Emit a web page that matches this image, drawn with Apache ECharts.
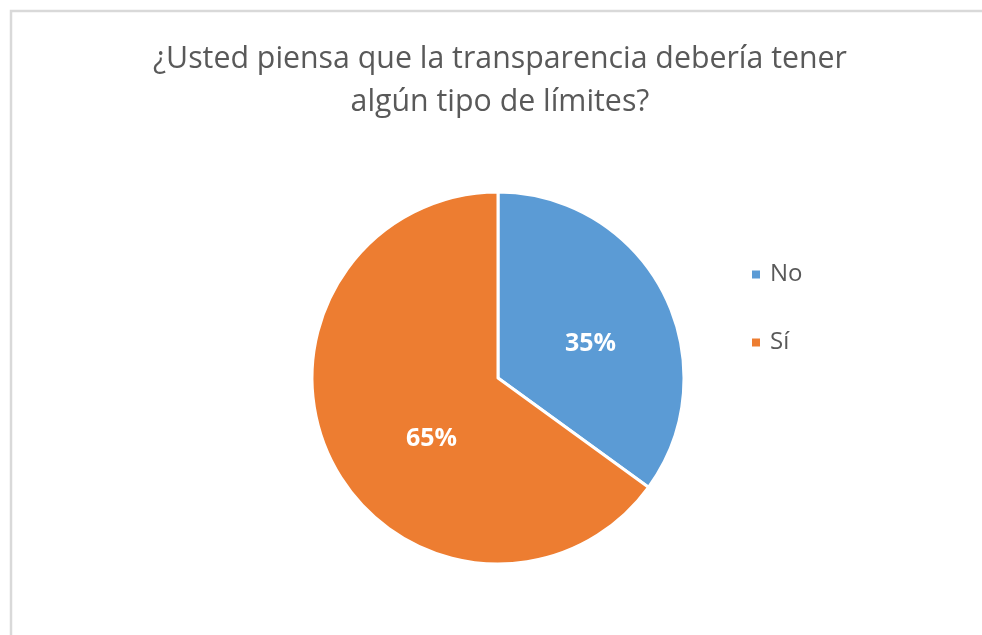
<!DOCTYPE html>
<html>
<head>
<meta charset="utf-8">
<script src="https://cdn.jsdelivr.net/npm/echarts@6/dist/echarts.min.js"></script>
<style>
html,body{margin:0;padding:0;background:#fff;}
#chart{width:982px;height:635px;}
</style>
</head>
<body>
<div id="chart"></div>
<script>
const titleLines = ['¿Usted piensa que la transparencia debería tener', 'algún tipo de límites?'];
const categories = ['No', 'Sí'];
const values = [35, 65];
const colors = ['#5B9BD5', '#ED7D31'];
const labelShift = [[7, 9], [19, 17]];

const chart = echarts.init(document.getElementById('chart'));
chart.setOption({
  animation: false,
  backgroundColor: '#ffffff',
  title: {
    text: titleLines.join('\n'),
    left: 495,
    textAlign: 'center',
    top: 33,
    textStyle: {
      fontFamily: 'Open Sans',
      fontSize: 30.3,
      fontWeight: 'normal',
      color: '#595959',
      lineHeight: 43
    }
  },
  graphic: [{
    type: 'rect',
    shape: {x: 11, y: 11, width: 1100, height: 800},
    style: {fill: 'none', stroke: '#d9d9d9', lineWidth: 2.5},
    silent: true
  }],
  legend: {
    orient: 'vertical',
    left: 745,
    top: 256,
    itemWidth: 10,
    itemHeight: 10,
    itemGap: 41,
    icon: 'rect',
    data: categories,
    textStyle: {
      fontFamily: 'Open Sans',
      fontSize: 24,
      color: '#595959',
      lineHeight: 27,
      padding: [0, 0, 0, 4]
    }
  },
  series: [{
    type: 'pie',
    center: [498, 378],
    radius: [0, 186],
    startAngle: 90,
    clockwise: true,
    data: categories.map((c, i) => ({name: c, value: values[i], itemStyle: {color: colors[i]}})),
    itemStyle: {borderColor: '#ffffff', borderWidth: 3},
    label: {
      show: true,
      position: 'inside',
      formatter: '{d}%',
      fontFamily: 'Open Sans',
      fontSize: 25,
      fontWeight: 'bold',
      color: '#ffffff'
    },
    labelLayout: function (p) {
      return {dx: labelShift[p.dataIndex][0], dy: labelShift[p.dataIndex][1]};
    },
    labelLine: {show: false},
    emphasis: {disabled: true}
  }]
});
</script>
</body>
</html>
